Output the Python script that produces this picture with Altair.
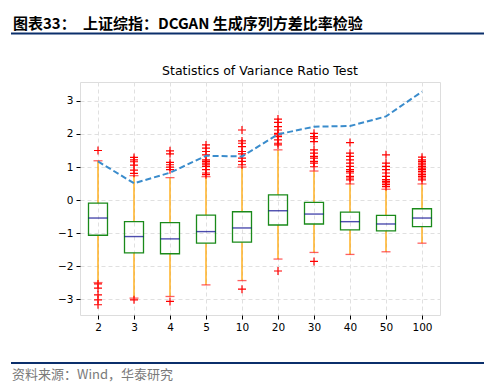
import altair as alt
import pandas as pd

cats = ["2", "3", "4", "5", "10", "20", "30", "40", "50", "100"]
q1 = [-1.06, -1.59, -1.62, -1.30, -1.27, -0.75, -0.72, -0.90, -0.93, -0.80]
q3 = [-0.09, -0.65, -0.68, -0.45, -0.35, 0.16, -0.07, -0.36, -0.46, -0.26]
med = [-0.54, -1.10, -1.17, -0.95, -0.84, -0.32, -0.42, -0.65, -0.72, -0.54]
wlo = [-2.49, -2.96, -2.91, -2.56, -2.43, -1.78, -1.58, -1.64, -1.56, -1.30]
whi = [1.19, 0.74, 0.68, 0.71, 1.00, 1.52, 0.88, 0.49, 0.33, 0.49]
vr_line = [1.17, 0.51, 0.83, 1.34, 1.32, 1.99, 2.22, 2.24, 2.53, 3.28]
outliers = {
    "2": [1.50, -2.53, -2.66, -2.86, -3.01, -3.16],
    "3": [1.29, 1.22, 1.16, 1.06, 0.91, 0.81, -3.01],
    "4": [1.49, 1.40, 1.14, 1.07, 1.00, 0.92, -3.06],
    "5": [1.67, 1.57, 1.47, 1.37, 1.22, 1.17, 1.12, 1.07, 1.02, 0.92, 0.82, 0.77],
    "10": [2.12, 1.79, 1.72, 1.62, 1.47, 1.40, 1.27, 1.17, 1.07, -2.69],
    "20": [2.45, 2.35, 2.22, 2.12, 2.02, 1.97, 1.92, 1.82, 1.72, 1.67, -2.14],
    "30": [2.02, 1.92, 1.87, 1.77, 1.52, 1.42, 1.32, 1.27, 1.17, 1.12, 1.01, -1.85],
    "40": [1.74, 1.42, 1.32, 1.22, 1.12, 1.02, 0.92, 0.87, 0.82, 0.72, 0.67, 0.61],
    "50": [1.37, 1.12, 1.02, 0.92, 0.82, 0.72, 0.62, 0.57, 0.52, 0.47, 0.41],
    "100": [1.30, 1.22, 1.17, 1.12, 1.07, 1.02, 0.97, 0.92, 0.87, 0.82, 0.77, 0.72, 0.67, 0.61],
}
y_ticks = [-3, -2, -1, 0, 1, 2, 3]

header_a = "图表33："
header_b = "上证综指：DCGAN 生成序列方差比率检验"
footer = "资料来源：Wind，华泰研究"
title = "Statistics of Variance Ratio Test"

stats = pd.DataFrame({"lag": cats, "q1": q1, "q3": q3, "med": med,
                      "wlo": wlo, "whi": whi, "vr": vr_line})
out_df = pd.DataFrame([{"lag": k, "v": v} for k, vals in outliers.items() for v in vals])

xaxis = alt.Axis(title=None, labelAngle=0, grid=True, gridDash=[4, 3],
                 gridColor="#e0e0e0", tickColor="#000", tickSize=4,
                 labelFont="DejaVu Sans", labelFontSize=10.5, labelColor="#000",
                 domain=False, labelPadding=3)
xscale = alt.Scale(type="point", padding=0.5)
yscale = alt.Scale(domain=[-3.47, 3.57], nice=False, zero=False)
yaxis = alt.Axis(title=None, values=y_ticks, grid=True, gridDash=[4, 3], gridColor="#e0e0e0",
                 tickColor="#000", tickSize=4, labelFont="DejaVu Sans", labelFontSize=10.5,
                 labelColor="#000", domain=False, labelPadding=3, labelOverlap=False,
                 format="d")


def X():
    return alt.X("lag:O", sort=cats, scale=xscale, axis=xaxis)


def Y(field):
    return alt.Y(field, scale=yscale, axis=yaxis)


base = alt.Chart(stats)

whisk_hi = base.mark_rule(color="#FFA500", strokeWidth=1.3).encode(
    x=X(), y=Y("q3:Q"), y2="whi:Q")
whisk_lo = base.mark_rule(color="#FFA500", strokeWidth=1.3).encode(
    x=X(), y=Y("wlo:Q"), y2="q1:Q")
box = base.mark_bar(size=19, fill="transparent", stroke="#1a8a1a", strokeWidth=1.3).encode(
    x=X(), y=Y("q1:Q"), y2="q3:Q")
median = base.mark_tick(size=19, thickness=1.4, color="#00008B").encode(x=X(), y=Y("med:Q"))
cap_hi = base.mark_tick(size=9, thickness=1.3, color="#ff2020").encode(x=X(), y=Y("whi:Q"))
cap_lo = base.mark_tick(size=9, thickness=1.3, color="#ff2020").encode(x=X(), y=Y("wlo:Q"))
fliers = alt.Chart(out_df).mark_point(
    shape="M-1,0L1,0M0,-1L0,1", size=64, filled=False, stroke="#ff0000", strokeWidth=1.2,
    opacity=1).encode(x=X(), y=Y("v:Q"))
line = base.mark_line(color="#3a8ccc", strokeWidth=2, strokeDash=[6, 3]).encode(
    x=X(), y=Y("vr:Q"))

one = pd.DataFrame({"a": [header_a], "b": [header_b], "f": [footer], "t": [title]})
ttl = alt.Chart(one).mark_text(align="center", baseline="alphabetic", font="DejaVu Sans",
                               fontSize=12.5, color="#000").encode(
    text="t:N", x=alt.value(180), y=alt.value(-7))
hdr_a = alt.Chart(one).mark_text(align="left", baseline="middle", font="Noto Sans CJK SC",
                                 fontSize=15, fontWeight="bold", color="#000").encode(
    text="a:N", x=alt.value(-67), y=alt.value(-58))
hdr_b = alt.Chart(one).mark_text(align="left", baseline="middle", font="Noto Sans CJK SC",
                                 fontSize=15, fontWeight="bold", color="#000").encode(
    text="b:N", x=alt.value(3), y=alt.value(-58))
hdr_line = alt.Chart(one).mark_rule(color="#0b2f6b", strokeWidth=2).encode(
    x=alt.value(-69), x2=alt.value(404), y=alt.value(-48.5))
ftr_line = alt.Chart(one).mark_rule(color="#0b2f6b", strokeWidth=2).encode(
    x=alt.value(-69), x2=alt.value(404), y=alt.value(281))
ftr = alt.Chart(one).mark_text(align="left", baseline="middle", font="Noto Sans CJK SC",
                               fontSize=13, color="#7a7a7a").encode(
    text="f:N", x=alt.value(-68), y=alt.value(293))

chart = alt.layer(whisk_hi, whisk_lo, box, median, cap_hi, cap_lo, fliers, line,
                  ttl, hdr_a, hdr_b, hdr_line, ftr_line, ftr).properties(
    width=360, height=233,
    autosize=alt.AutoSizeParams(type="none"),
    padding={"left": 72, "top": 74, "right": 44, "bottom": 69},
).configure_view(stroke="#666", strokeWidth=1.5).configure(background="white")

chart.save("out.html", embed_options={"renderer": "svg", "actions": False})
